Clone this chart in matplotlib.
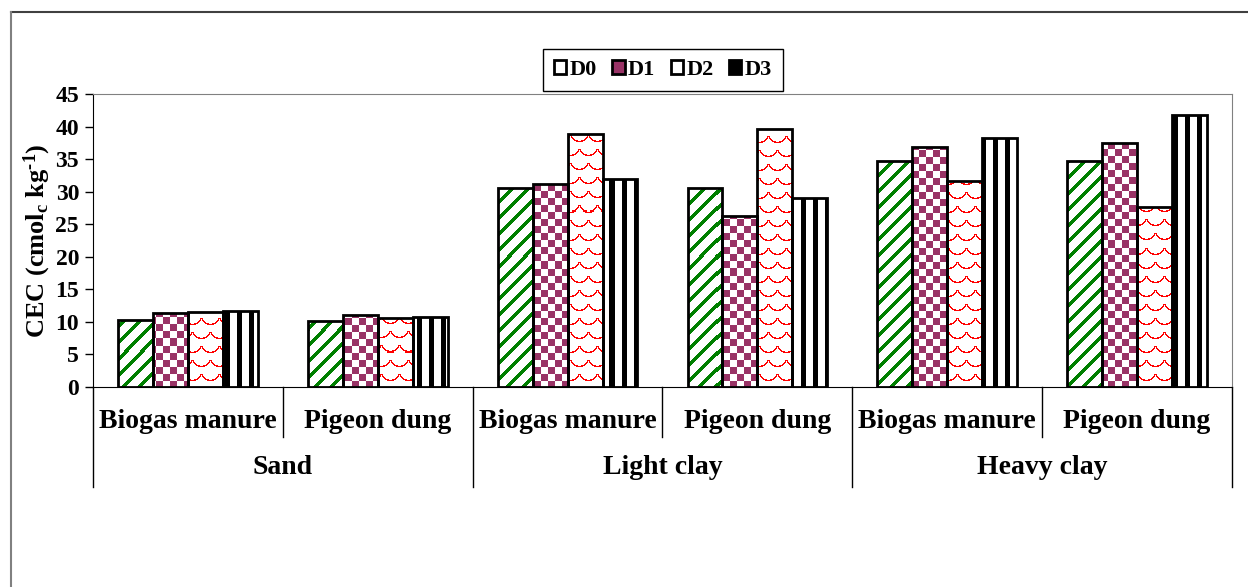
import numpy as np
import matplotlib
matplotlib.use("Agg")
import matplotlib.pyplot as plt
from matplotlib.patches import Patch
from matplotlib.lines import Line2D

plt.rcParams['font.family'] = ['Liberation Serif', 'DejaVu Serif']
plt.rcParams['font.weight'] = 'bold'
plt.rcParams['mathtext.fontset'] = 'custom'
plt.rcParams['mathtext.rm'] = 'Liberation Serif:bold'
plt.rcParams['mathtext.bf'] = 'Liberation Serif:bold'
plt.rcParams['mathtext.it'] = 'Liberation Serif:bold'

# CEC values per treatment level, one list per dose
soils = ["Sand", "Light clay", "Heavy clay"]
amendments = ["Biogas manure", "Pigeon dung"]
doses = ["D0", "D1", "D2", "D3"]
d0 = [10.3, 10.2, 30.6, 30.6, 34.7, 34.7]
d1 = [11.4, 11.0, 31.2, 26.3, 36.8, 37.5]
d2 = [11.5, 10.6, 38.9, 39.6, 31.6, 27.7]
d3 = [11.7, 10.8, 31.9, 29.0, 38.2, 41.8]
yticks = list(range(0, 50, 5))

DPI = 100
W, H = 1248, 587
L, R, B, T = 93, 1232, 387, 94

fig = plt.figure(figsize=(W / DPI, H / DPI), dpi=DPI)
ax = fig.add_axes([L / W, 1 - B / H, (R - L) / W, (B - T) / H])

# fill patterns built at screen resolution of the axes
pw, ph = R - L, B - T
yy, xx = np.mgrid[0:ph, 0:pw]


def rgba(mask, color):
    c = matplotlib.colors.to_rgba(color)
    img = np.ones((ph, pw, 4))
    img[mask] = c
    return img


stripes = rgba(((xx + yy) % 16) < 5, "#008000")
checker = rgba(((xx // 7) + (yy // 7)) % 2 == 0, "#993366")
# shingle-like arcs, staggered every other row
tw, th = 18, 14
row = yy // th
sx = (xx + (row % 2) * (tw // 2)) % tw
sy = yy % th
dist = np.sqrt((sx - tw / 2) ** 2 + (sy + 3.0) ** 2)
scales = rgba(np.abs(dist - tw / 2) < 0.8, "#ff0000")
bars_v = rgba((xx % 12) < 5, "#000000")
patterns = [stripes, checker, scales, bars_v]

series = [d0, d1, d2, d3]
x = np.arange(len(d0))
w = 0.184
for j, vals in enumerate(series):
    rects = ax.bar(x + (j - 1.5) * w, vals, w, facecolor="none",
                   edgecolor="black", linewidth=2.0, zorder=3)
    for r in rects:
        im = ax.imshow(patterns[j], extent=(0, 1, 0, 1), transform=ax.transAxes,
                       aspect="auto", interpolation="nearest", zorder=2)
        im.set_clip_path(r)

ax.set_xlim(-0.5, len(d0) - 0.5)
ax.set_ylim(0, 45)
ax.set_yticks(yticks)
ax.tick_params(axis="y", direction="out", length=6, width=1, labelsize=17, pad=4)
ax.set_xticks([])
for s in ["top", "right"]:
    ax.spines[s].set_color("#808080")
for s in ["left", "bottom"]:
    ax.spines[s].set_color("black")
ax.set_ylabel(r"CEC (cmol$_{c}$ kg$^{\text{-1}}$)", fontsize=19,
              fontweight="bold", labelpad=2)

# two-level category axis below the plot
tr = ax.get_xaxis_transform()
for i in range(len(d0) + 1):
    depth = 100 if i % 2 == 0 else 50
    ax.add_line(Line2D([i - 0.5, i - 0.5], [0, -depth / ph], transform=tr,
                       color="black", linewidth=1, clip_on=False))
for i in range(len(d0)):
    ax.text(i, -34 / ph, amendments[i % 2], transform=tr, ha="center",
            va="center", fontsize=20, fontweight="bold")
for k, name in enumerate(soils):
    ax.text(2 * k + 0.5, -81 / ph, name, transform=tr, ha="center",
            va="center", fontsize=20, fontweight="bold")

handles = [
    Patch(facecolor="white", edgecolor="black", linewidth=2),
    Patch(facecolor="#993366", edgecolor="black", linewidth=2),
    Patch(facecolor="white", edgecolor="black", linewidth=2),
    Patch(facecolor="black", edgecolor="black", linewidth=2),
]
leg = fig.legend(handles, doses, loc="center", bbox_to_anchor=(663 / W, 1 - 70 / H),
                 ncol=4, handlelength=0.55, handleheight=0.55, handletextpad=0.15,
                 columnspacing=0.7, fancybox=False, edgecolor="black",
                 framealpha=1, prop={"size": 16, "weight": "bold"},
                 borderpad=0.5)
leg.get_frame().set_linewidth(1.0)

# outer chart border
fig.add_artist(Line2D([11 / W, 1], [1 - 12 / H, 1 - 12 / H], transform=fig.transFigure,
                      color="#404040", linewidth=1.5))
fig.add_artist(Line2D([11 / W, 11 / W], [0, 1 - 12 / H], transform=fig.transFigure,
                      color="#808080", linewidth=1.5))

fig.savefig("out.png", dpi=DPI)
